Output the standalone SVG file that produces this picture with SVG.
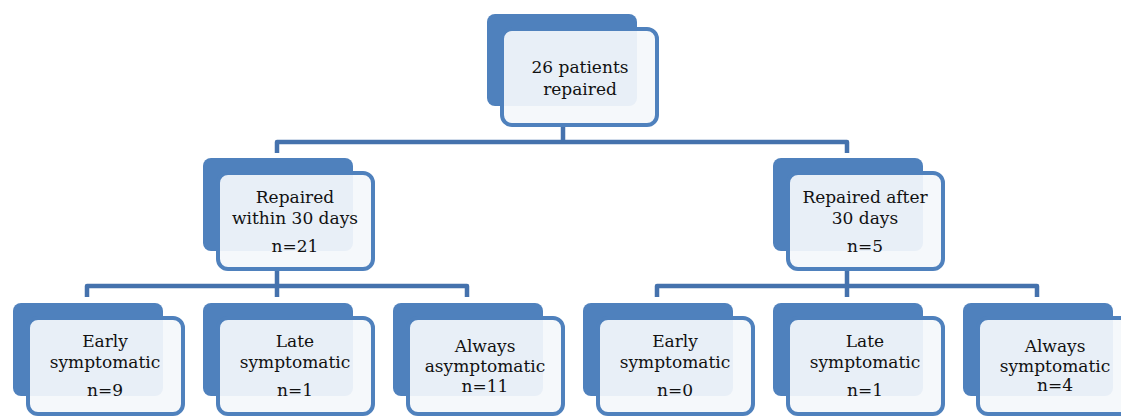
<svg xmlns="http://www.w3.org/2000/svg" width="1121" height="416" viewBox="0 0 1121 416">
<defs>
<style>
.back{fill:#4f81bd;}
.front{fill:#f4f7fb;fill-opacity:0.93;stroke:#4f81bd;stroke-width:4;}
.conn{fill:none;stroke:#4572ad;stroke-width:4.5;stroke-linejoin:round;}
text{font-family:"DejaVu Serif","Liberation Serif",serif;font-size:17px;fill:#111111;text-anchor:middle;}
</style>
</defs>
<rect width="1121" height="416" fill="#ffffff"/>
<g id="connectors">
<path class="conn" d="M563 127 V142 M277 153 V142 H847 V153"/>
<path class="conn" d="M277 271 V286 M87 297 V286 H467 V297 M277 286 V297"/>
<path class="conn" d="M847 271 V286 M657 297 V286 H1037 V297 M847 286 V297"/>
</g>
<g id="n-root">
<rect class="back" x="487" y="14" width="150" height="92" rx="8"/>
<rect class="front" x="502" y="29" width="155" height="96" rx="10"/>
<text x="580" y="73">26 patients</text>
<text x="580" y="95">repaired</text>
</g>
<g id="n-within">
<rect class="back" x="203" y="158" width="150" height="93" rx="8"/>
<rect class="front" x="218" y="173" width="155" height="96" rx="10"/>
<text x="295" y="203">Repaired</text>
<text x="295" y="224">within 30 days</text>
<text x="295" y="252">n=21</text>
</g>
<g id="n-after">
<rect class="back" x="773" y="158" width="150" height="93" rx="8"/>
<rect class="front" x="788" y="173" width="155" height="96" rx="10"/>
<text x="865" y="203">Repaired after</text>
<text x="865" y="224">30 days</text>
<text x="865" y="252">n=5</text>
</g>
<g id="n-early1">
<rect class="back" x="13" y="303" width="150" height="93" rx="8"/>
<rect class="front" x="28" y="318" width="155" height="96" rx="10"/>
<text x="105" y="347">Early</text>
<text x="105" y="368">symptomatic</text>
<text x="105" y="396">n=9</text>
</g>
<g id="n-late1">
<rect class="back" x="203" y="303" width="150" height="93" rx="8"/>
<rect class="front" x="218" y="318" width="155" height="96" rx="10"/>
<text x="295" y="347">Late</text>
<text x="295" y="368">symptomatic</text>
<text x="295" y="396">n=1</text>
</g>
<g id="n-always1">
<rect class="back" x="393" y="303" width="150" height="93" rx="8"/>
<rect class="front" x="408" y="318" width="155" height="96" rx="10"/>
<text x="485" y="352">Always</text>
<text x="485" y="372">asymptomatic</text>
<text x="485" y="392">n=11</text>
</g>
<g id="n-early2">
<rect class="back" x="583" y="303" width="150" height="93" rx="8"/>
<rect class="front" x="598" y="318" width="155" height="96" rx="10"/>
<text x="675" y="347">Early</text>
<text x="675" y="368">symptomatic</text>
<text x="675" y="396">n=0</text>
</g>
<g id="n-late2">
<rect class="back" x="773" y="303" width="150" height="93" rx="8"/>
<rect class="front" x="788" y="318" width="155" height="96" rx="10"/>
<text x="865" y="347">Late</text>
<text x="865" y="368">symptomatic</text>
<text x="865" y="396">n=1</text>
</g>
<g id="n-always2">
<rect class="back" x="963" y="303" width="150" height="93" rx="8"/>
<rect class="front" x="978" y="318" width="155" height="96" rx="10"/>
<text x="1055" y="352">Always</text>
<text x="1055" y="372">symptomatic</text>
<text x="1055" y="391">n=4</text>
</g>
</svg>
